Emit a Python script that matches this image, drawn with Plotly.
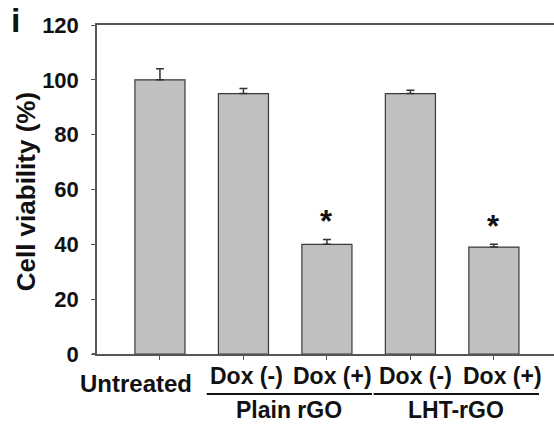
import plotly.graph_objects as go

# Cell viability per treatment group
categories = ["Untreated", "Dox (-)", "Dox (+)", "Dox (-)", "Dox (+)"]
viability = [100, 95, 40, 95, 39]
viability_err = [4, 1.8, 1.8, 1.2, 1.0]
significant = [False, False, True, False, True]
groups = [("Plain rGO", 1, 2), ("LHT-rGO", 3, 4)]
y_ticks = [0, 20, 40, 60, 80, 100, 120]

FONT = "Liberation Sans, Arial, sans-serif"
AXIS_GREY = "#555555"

x_idx = list(range(len(categories)))

fig = go.Figure()
fig.add_trace(go.Bar(
    x=x_idx,
    y=viability,
    width=0.6,
    marker=dict(color="#c0c0c0", line=dict(color="#3a3a3a", width=1.2)),
    error_y=dict(type="data", array=viability_err, symmetric=False,
                 arrayminus=[0] * len(viability_err),
                 color="#333333", thickness=1.5, width=4),
    showlegend=False,
))

annotations = []
# Category labels under each bar
for i, lab in enumerate(categories):
    if i == 0:
        annotations.append(dict(x=i - 0.29, y=-0.09, xref="x", yref="paper",
                                text=f"<b>{lab}</b>", showarrow=False,
                                xanchor="center", yanchor="middle",
                                font=dict(family=FONT, size=24, color="#111")))
    else:
        left = i - 0.43 if i < 3 else i - 0.40
        annotations.append(dict(x=left, y=-0.067, xref="x", yref="paper",
                                text=f"<b>{lab}</b>", showarrow=False,
                                xanchor="left", yanchor="middle",
                                font=dict(family=FONT, size=23, color="#111")))

shapes = []
# Group brackets: underline plus group name
for name, a, b in groups:
    x0 = a - 0.44
    x1 = b + 0.54
    shapes.append(dict(type="line", xref="x", yref="paper", x0=x0, x1=x1,
                       y0=-0.1216, y1=-0.1216, line=dict(color="#111", width=2)))
    annotations.append(dict(x=(x0 + x1) / 2, y=-0.17, xref="x", yref="paper",
                            text=f"<b>{name}</b>", showarrow=False,
                            xanchor="center", yanchor="middle",
                            font=dict(family=FONT, size=23, color="#111")))

# Significance markers
for i, (v, e, s) in enumerate(zip(viability, viability_err, significant)):
    if s:
        annotations.append(dict(x=i, y=v + e, xref="x", yref="y", text="<b>*</b>",
                                showarrow=False, xanchor="center", yanchor="bottom",
                                yshift=-2,
                                font=dict(family=FONT, size=31, color="#111")))

# Y-axis title
annotations.append(dict(x=-0.155, y=0.492, xref="paper", yref="paper",
                        text="<b>Cell viability (%)</b>", textangle=-90,
                        showarrow=False, xanchor="center", yanchor="middle",
                        font=dict(family=FONT, size=26, color="#111")))
# Panel letter
annotations.append(dict(x=-0.179, y=1.015, xref="paper", yref="paper",
                        text="<b>i</b>", showarrow=False,
                        xanchor="center", yanchor="middle",
                        font=dict(family=FONT, size=34, color="#111")))

# Short stub of the x-axis line to the left of the y-axis
shapes.append(dict(type="line", xref="paper", yref="paper", x0=-0.011, x1=0,
                   y0=0, y1=0, line=dict(color=AXIS_GREY, width=2)))

fig.update_layout(
    width=554, height=426,
    margin=dict(l=97, r=0, t=25, b=72),
    paper_bgcolor="white", plot_bgcolor="white",
    annotations=annotations,
    shapes=shapes,
    xaxis=dict(
        range=[-0.754, 4.72],
        tickvals=x_idx, ticktext=[""] * len(x_idx),
        showline=True, linecolor=AXIS_GREY, linewidth=2, mirror=True,
        ticks="outside", ticklen=4, tickcolor=AXIS_GREY, tickwidth=1,
        showgrid=False, zeroline=False,
    ),
    yaxis=dict(
        range=[0, 120],
        tickvals=y_ticks,
        tickfont=dict(family=FONT, size=22, color="#111", weight="bold"),
        showline=True, linecolor=AXIS_GREY, linewidth=1.5,
        ticks="outside", ticklen=4, tickcolor=AXIS_GREY, tickwidth=1,
        ticklabelstandoff=8,
        showgrid=False, zeroline=False,
    ),
)

fig.write_html("out.html")
